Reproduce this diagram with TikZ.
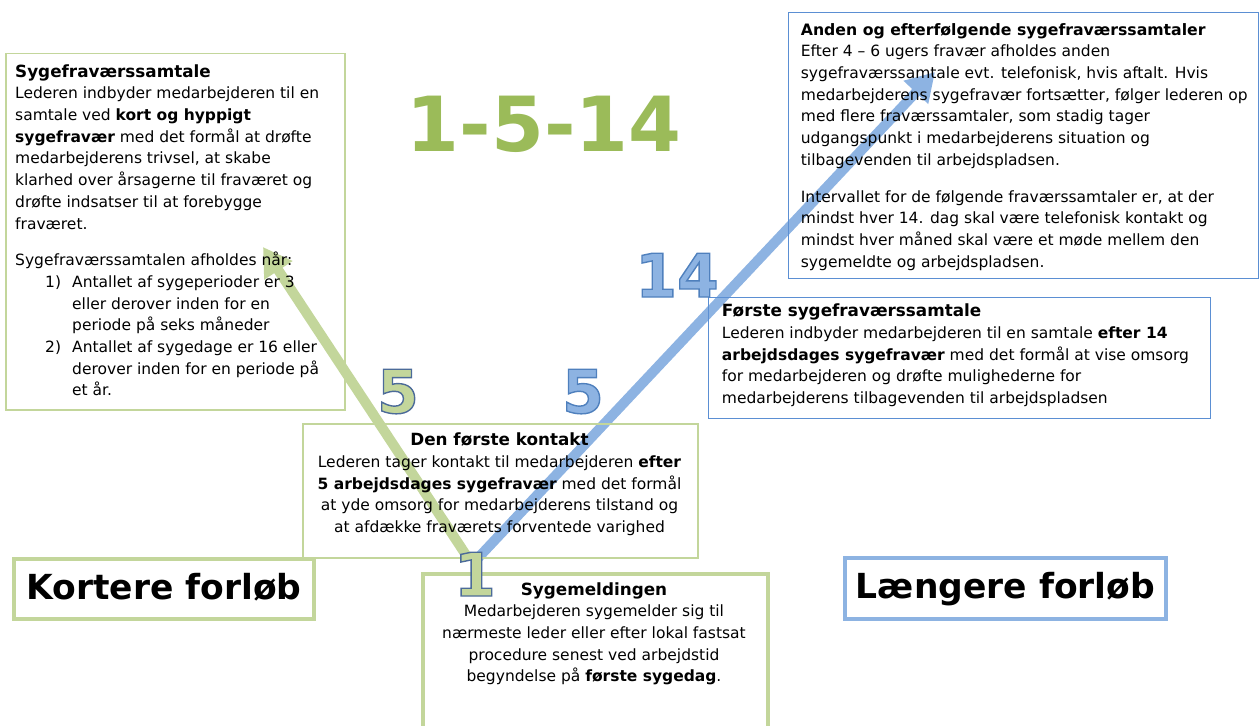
\documentclass[tikz,border=0pt]{standalone}
\usepackage{fontspec}
\setmainfont{DejaVu Sans}
\usetikzlibrary{
  arrows.meta,
  positioning
}
\definecolor{grnline}{HTML}{C3D69B}
\definecolor{grnbig}{HTML}{9BBB59}
\definecolor{bluline}{HTML}{8DB3E2}
\definecolor{bluframe}{HTML}{5B8FD3}
% outlined numeral: stroke colour (rgb), fill colour, text
\newcommand{\outnum}[3]{\textcolor{#2}{%
  \special{pdf:literal direct 2 Tr 1.4 w #1 RG}#3\special{pdf:literal direct 0 Tr}}}
\newcommand{\titlefont}{\bfseries\fontsize{16.8}{21.7}\selectfont}
\tikzset{
  thin green/.style={
    draw=grnline, line width=1.5pt, rectangle, inner sep=0pt
  },
  thin blue/.style={
    draw=bluframe, line width=1.2pt, rectangle, inner sep=0pt
  },
  thick green/.style={
    draw=grnline, line width=4.5pt, rectangle, inner sep=0pt
  },
  thick blue/.style={
    draw=bluline, line width=4.5pt, rectangle, inner sep=0pt
  },
  box text/.style={
    inner sep=0pt, align=left, anchor=north west,
    font=\fontsize{15.5}{21.7}\selectfont
  },
  centre text/.style={
    inner sep=0pt, align=center, anchor=north,
    font=\fontsize{15.5}{21.7}\selectfont
  },
  course/.style={
    font=\bfseries\fontsize{34.5}{38}\selectfont,
    text height=20pt, text depth=0pt
  },
  numeral/.style={
    inner sep=0pt, anchor=base
  },
  flow arrow/.style={
    line width=10pt, -{Triangle[width=32pt,length=28pt]}
  },
}
\begin{document}
\begin{tikzpicture}[x=1pt, y=-1pt]

  \clip (0,0) rectangle (1260,725);

  % arrows
  \coordinate (green start) at (468,558);
  \coordinate (blue start) at (478,558);
  \coordinate (green tip) at (263,247);
  \coordinate (blue tip) at (935,72);
  \draw[flow arrow, grnline] (green start) -- (green tip);
  \draw[flow arrow, bluline] (blue start) -- (blue tip);

  % title
  \node[font=\bfseries\fontsize{76}{80}\selectfont, text=grnbig, anchor=base]
    (title) at (544,151) {1-5-14};

  % Sygefraværssamtale
  \node[thin green, minimum width=339, minimum height=356, anchor=north west]
    (samtale box) at (5,53) {};
  \node[box text] (samtale) at (15,61.8) {%
    \strut{\titlefont Sygefraværssamtale}\\
    Lederen indbyder medarbejderen til en\\
    samtale ved \textbf{kort og hyppigt}\\
    \textbf{sygefravær} med det formål at drøfte\\
    medarbejderens trivsel, at skabe\\
    klarhed over årsagerne til fraværet og\\
    drøfte indsatser til at forebygge\\
    fraværet.\\[15pt]
    Sygefraværssamtalen afholdes når:\\
    \hspace*{30pt}\makebox[27pt][l]{1)}Antallet af sygeperioder er 3\\
    \hspace*{57pt}eller derover inden for en\\
    \hspace*{57pt}periode på seks måneder\\
    \hspace*{30pt}\makebox[27pt][l]{2)}Antallet af sygedage er 16 eller\\
    \hspace*{57pt}derover inden for en periode på\\
    \hspace*{57pt}et år.};

  % Anden og efterfølgende
  \node[thin blue, minimum width=470, minimum height=266, anchor=north west]
    (anden box) at (788,12) {};
  \node[box text] (anden) at (800.7,19.8) {%
    \strut{\bfseries\fontsize{15.7}{21.7}\selectfont Anden og efterfølgende sygefraværssamtaler}\\
    Efter 4 – 6 ugers fravær afholdes anden\\
    sygefraværssamtale evt. telefonisk, hvis aftalt. Hvis\\
    medarbejderens sygefravær fortsætter, følger lederen op\\
    med flere fraværssamtaler, som stadig tager\\
    udgangspunkt i medarbejderens situation og\\
    tilbagevenden til arbejdspladsen.\\[15pt]
    Intervallet for de følgende fraværssamtaler er, at der\\
    mindst hver 14. dag skal være telefonisk kontakt og\\
    mindst hver måned skal være et møde mellem den\\
    sygemeldte og arbejdspladsen.};

  % Første sygefraværssamtale
  \node[thin blue, minimum width=502, minimum height=121, anchor=north west]
    (forste box) at (708,297) {};
  \node[box text] (forste) at (721.7,301.5) {%
    \strut{\titlefont Første sygefraværssamtale}\\
    Lederen indbyder medarbejderen til en samtale \textbf{efter 14}\\
    \textbf{arbejdsdages sygefravær} med det formål at vise omsorg\\
    for medarbejderen og drøfte mulighederne for\\
    medarbejderens tilbagevenden til arbejdspladsen};

  % Den første kontakt
  \node[thin green, minimum width=395, minimum height=134, anchor=north west]
    (kontakt box) at (302,423) {};
  \node[centre text] (kontakt) at (499.5,430.5) {%
    \strut{\titlefont Den første kontakt}\\
    Lederen tager kontakt til medarbejderen \textbf{efter}\\
    \textbf{5 arbejdsdages sygefravær} med det formål\\
    at yde omsorg for medarbejderens tilstand og\\
    at afdække fraværets forventede varighed};

  % Sygemeldingen
  \node[thick green, minimum width=345, minimum height=200, anchor=north west]
    (melding box) at (420.5,571.5) {};
  \node[centre text] (melding) at (594,579.8) {%
    \strut{\titlefont Sygemeldingen}\\
    Medarbejderen sygemelder sig til\\
    nærmeste leder eller efter lokal fastsat\\
    procedure senest ved arbejdstid\\
    begyndelse på \textbf{første sygedag}.};

  % forløb
  \node[thick green, course, minimum width=300, minimum height=60]
    (kortere) at (164,589) {Kortere forløb};
  \node[thick blue, course, minimum width=321, minimum height=61]
    (laengere) at (1005.5,588.5) {Længere forløb};

  % numerals
  \node[numeral, font=\bfseries\fontsize{60}{64}\selectfont]
    (five green) at (398,413) {\outnum{0.30 0.42 0.60}{grnline}{5}};
  \node[numeral, font=\bfseries\fontsize{60}{64}\selectfont]
    (five blue) at (583,413) {\outnum{0.31 0.50 0.74}{bluline}{5}};
  \node[numeral, font=\bfseries\fontsize{60}{64}\selectfont]
    (fourteen) at (677,297) {\outnum{0.31 0.50 0.74}{bluline}{14}};
  \node[numeral, font=\bfseries\fontsize{60}{64}\selectfont]
    (one) at (475,596) {\outnum{0.30 0.42 0.60}{grnline}{1}};

\end{tikzpicture}
\end{document}
